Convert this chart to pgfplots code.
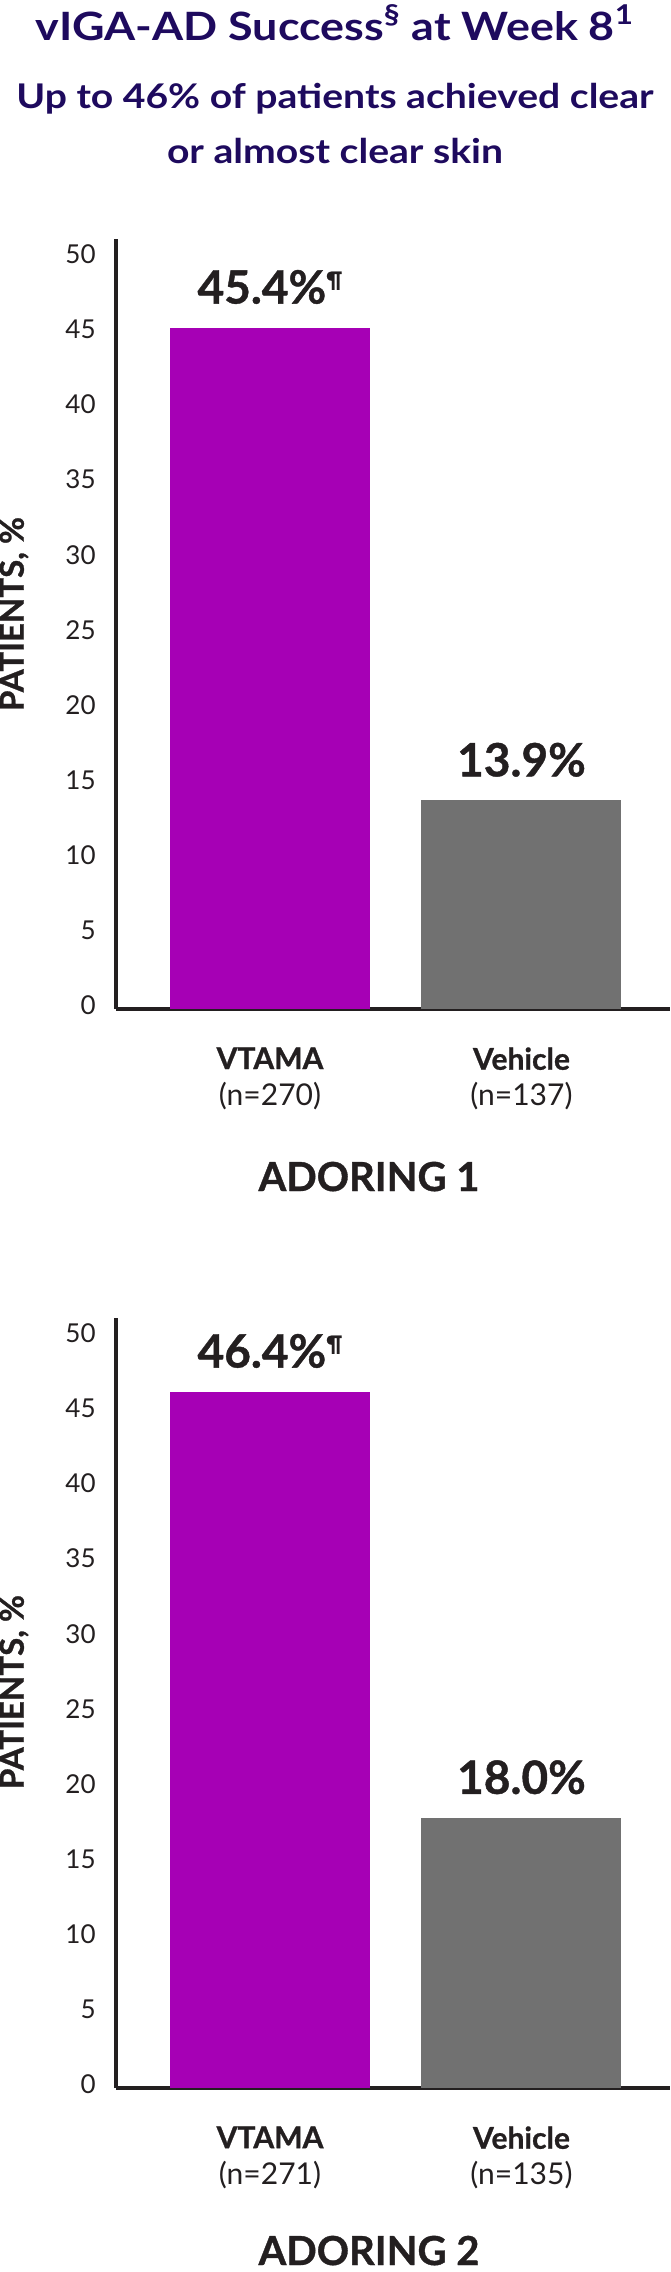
\documentclass[border=0pt]{standalone}
\usepackage{fontspec}
\setmainfont{Lato}
\newfontfamily\widefont[FakeStretch=1.15]{Lato}
\newfontfamily\heavy[BoldFeatures={FakeBold=0.9}]{Lato}
\usepackage{pgfplots}
\pgfplotsset{compat=1.18}
\definecolor{navy}{HTML}{1E0A5E}
\definecolor{vpurple}{HTML}{A600B5}
\definecolor{vgray}{HTML}{717171}
\definecolor{ink}{HTML}{231F20}
\newcommand{\pil}{\raisebox{8pt}{\fontsize{11}{11}\selectfont ¶}}
\pgfplotsset{
  vbase/.style={
    scale only axis, width=277pt, height=385pt,
    xmin=-0.6123, xmax=1.5905, ymin=0, ymax=51.3,
    axis x line=bottom, axis y line=left,
    axis line style={-, line width=2.2pt, color=ink},
    ytick={0,5,...,50}, xtick={0,1},
    major tick length=0pt,
    /pgf/number format/assume math mode=true,
    yticklabel style={font=\fontsize{13}{15}\selectfont, text=ink, inner sep=0pt, xshift=-10pt, yshift=2pt},
    xticklabel style={font=\fontsize{15}{18}\selectfont, text=ink, align=center, inner sep=0pt, anchor=north, yshift=-19pt},
    ybar, bar width=100pt,
    nodes near coords, point meta=explicit symbolic,
    every node near coord/.append style={font=\heavy\bfseries\fontsize{23}{26}\selectfont, text=ink, anchor=base, inner sep=0pt, yshift=12pt},
    clip=false,
  }
}
\begin{document}
\begin{tikzpicture}
\useasboundingbox (0,0) rectangle (335pt,-1136pt);
% titles
\node[anchor=base, text=navy, font=\widefont\bfseries\fontsize{19.5}{22}\selectfont, inner sep=0pt] at (167.5pt,-20pt) {vIGA-AD Success\textsuperscript{§} at Week 8\textsuperscript{1}};
\node[anchor=base, text=navy, font=\widefont\bfseries\fontsize{17}{20}\selectfont, inner sep=0pt] at (167.5pt,-54pt) {Up to 46\% of patients achieved clear};
\node[anchor=base, text=navy, font=\widefont\bfseries\fontsize{17}{20}\selectfont, inner sep=0pt] at (167.5pt,-81.5pt) {or almost clear skin};
% chart 1
\begin{axis}[vbase, at={(58pt,-504.5pt)}, anchor=south west,
  xticklabels={{{\heavy\bfseries VTAMA}\\(n=270)},{{\heavy\bfseries Vehicle}\\(n=137)}}]
\addplot[fill=vpurple, draw=none, bar shift=0pt] coordinates {(0,45.4) [45.4\%\pil]};
\addplot[fill=vgray, draw=none, bar shift=0pt] coordinates {(1,13.9) [13.9\%]};
\end{axis}
\node[rotate=90, anchor=center, text=ink, font=\heavy\bfseries\fontsize{16.5}{20}\selectfont, inner sep=0pt] at (7pt,-307pt) {PATIENTS, \%};
\node[anchor=base, text=ink, font=\heavy\bfseries\fontsize{20}{24}\selectfont, inner sep=0pt] at (184.5pt,-595.5pt) {ADORING 1};
% chart 2
\begin{axis}[vbase, at={(58pt,-1044pt)}, anchor=south west,
  xticklabels={{{\heavy\bfseries VTAMA}\\(n=271)},{{\heavy\bfseries Vehicle}\\(n=135)}}]
\addplot[fill=vpurple, draw=none, bar shift=0pt] coordinates {(0,46.4) [46.4\%\pil]};
\addplot[fill=vgray, draw=none, bar shift=0pt] coordinates {(1,18.0) [18.0\%]};
\end{axis}
\node[rotate=90, anchor=center, text=ink, font=\heavy\bfseries\fontsize{16.5}{20}\selectfont, inner sep=0pt] at (7pt,-846pt) {PATIENTS, \%};
\node[anchor=base, text=ink, font=\heavy\bfseries\fontsize{20}{24}\selectfont, inner sep=0pt] at (184.5pt,-1132.5pt) {ADORING 2};
\end{tikzpicture}
\end{document}
